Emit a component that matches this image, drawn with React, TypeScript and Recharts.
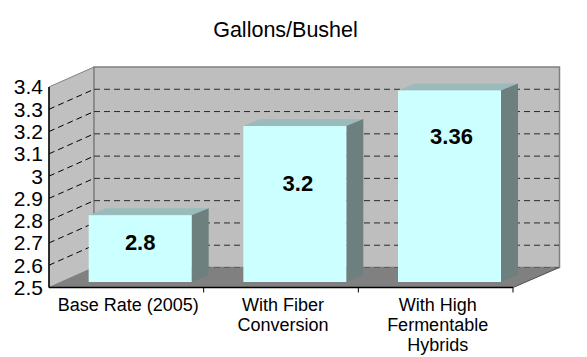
import React from "react";
import { BarChart, Bar, XAxis, YAxis, CartesianGrid } from "recharts";

const categories = ["Base Rate (2005)", "With Fiber\nConversion", "With High\nFermentable\nHybrids"];
const gallons = [2.8, 3.2, 3.36];
const labelDrop = [27, 57, 46];
const labelShift = [0, 3, 2];
const yTicks = [2.5, 2.6, 2.7, 2.8, 2.9, 3, 3.1, 3.2, 3.3, 3.4];
const data = categories.map((name, i) => ({ name, gallons: gallons[i], drop: labelDrop[i], shift: labelShift[i] }));

const W = 587, H = 357;
const L = 49, R = 513, T = 87, B = 287.5;
const DX = 45, DY = -20;
const band = (R - L) / 3;
const FONT = "'Liberation Sans', Arial, sans-serif";
const DASH = "6 4";

function Walls() {
  return (
    <svg width={W} height={H} style={{ position: "absolute", left: 0, top: 0 }}>
      <polygon points={`${L},${T} ${L + DX},${T + DY} ${L + DX},${B + DY} ${L},${B}`} fill="#c0c0c0" stroke="#808080" strokeWidth={1} />
      <rect x={L + DX} y={T + DY} width={R - L + 1.5} height={B - T} fill="#bebebe" stroke="#808080" strokeWidth={1.5} />
      <polygon points={`${L},${B} ${R},${B} ${R + DX + 1.5},${B + DY} ${L + DX},${B + DY}`} fill="#808080" stroke="#808080" strokeWidth={0.5} />
    </svg>
  );
}

function GridLine(props: any) {
  const y = props.y1;
  const isEdge = Math.abs(y - T) < 1;
  const isBase = Math.abs(y - B) < 1;
  if (isEdge) return <g />;
  return (
    <g>
      {!isBase && <line x1={L} y1={y} x2={L + DX} y2={y + DY} stroke="#000" strokeDasharray={DASH} strokeWidth={1} />}
      <line x1={L + DX} y1={y + DY} x2={R + DX + 1} y2={y + DY} stroke={isBase ? "#6b5a44" : "#2b2b2b"} strokeDasharray={DASH} strokeWidth={1} />
    </g>
  );
}

function Bar3D(props: any) {
  const { x, y, width, height, payload } = props;
  const ox = 14, oy = -5.5, dx = 17, dy = -7;
  const X = x + ox, Y = y + oy;
  return (
    <g>
      <polygon points={`${X},${Y} ${X + dx},${Y + dy} ${X + width + dx},${Y + dy} ${X + width},${Y}`} fill="#99bbbb" />
      <polygon points={`${X + width},${Y} ${X + width + dx},${Y + dy} ${X + width + dx},${Y + height + dy} ${X + width},${Y + height}`} fill="#6e807e" />
      <rect x={X} y={Y} width={width} height={height} fill="#ccffff" />
      <text x={X + width / 2 + payload.shift} y={Y + payload.drop + 8} textAnchor="middle" fontFamily={FONT} fontWeight="bold" fontSize={22} fill="#000">
        {payload.gallons}
      </text>
    </g>
  );
}

function XTick(props: any) {
  const { x, payload } = props;
  const lines = String(payload.value).split("\n");
  const isLast = Math.abs(x + band / 2 - R) < 2;
  return (
    <g>
      <line x1={x + band / 2} y1={B} x2={x + band / 2} y2={B + 5} stroke="#000" />
      {isLast && <line x1={R} y1={B} x2={R + DX + 1} y2={B + DY} stroke="#555" />}
      {lines.map((t, i) => (
        <text key={i} x={x + 2} y={311 + i * 20} textAnchor="middle" fontFamily={FONT} fontSize={18} fill="#000">
          {t}
        </text>
      ))}
    </g>
  );
}

export default function App() {
  return (
    <div style={{ position: "absolute", left: 0, top: 0, width: W, height: H, background: "#fff" }}>
      <Walls />
      <div style={{ position: "absolute", left: 0, top: 0 }}>
        <BarChart
          width={W}
          height={H}
          data={data}
          margin={{ top: T, left: 0, right: W - R, bottom: 0 }}
          barCategoryGap="16.6%"
        >
          <text x={285.5} y={37} textAnchor="middle" fontFamily={FONT} fontSize={21.5} fill="#000">
            Gallons/Bushel
          </text>
          <CartesianGrid vertical={false} horizontal={(p: any) => <GridLine key={p.key} {...p} />} />
          <YAxis
            type="number"
            domain={[2.5, 3.4]}
            ticks={yTicks}
            width={L}
            interval={0}
            axisLine={{ stroke: "#000", strokeWidth: 1.5 }}
            tickLine={false}
            tickSize={0}
            tickMargin={6}
            tick={{ fontFamily: FONT, fontSize: 21, fill: "#000" }}
          />
          <XAxis
            dataKey="name"
            interval={0}
            height={H - B}
            axisLine={{ stroke: "#000", strokeWidth: 1.5 }}
            tickLine={false}
            tick={<XTick />}
          />
          <Bar dataKey="gallons" isAnimationActive={false} shape={<Bar3D />} />
        </BarChart>
      </div>
    </div>
  );
}
